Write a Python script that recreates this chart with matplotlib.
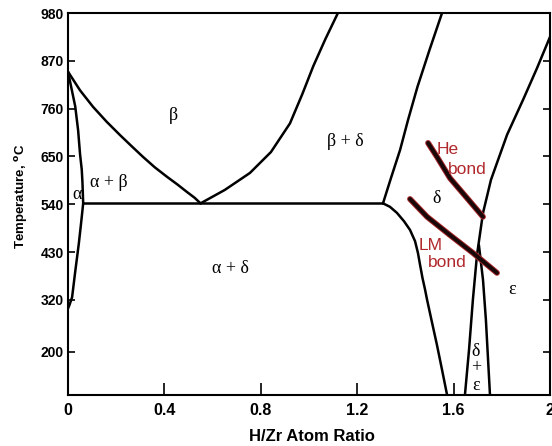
import numpy as np
import matplotlib
matplotlib.use("Agg")
import matplotlib.pyplot as plt

# phase boundaries: (H/Zr ratio, temperature C)
alpha_beta_x = [0.0, 0.015, 0.03, 0.042, 0.05, 0.057, 0.06, 0.063]
alpha_beta_t = [845, 805, 765, 710, 655, 620, 590, 542]

alpha_solvus_x = [0.063, 0.055, 0.045, 0.03, 0.017, 0.006, 0.0]
alpha_solvus_t = [542, 500, 450, 385, 326, 308, 300]

beta_x = [0.0, 0.05, 0.104, 0.16, 0.216, 0.265, 0.311, 0.36, 0.411, 0.455, 0.494, 0.525, 0.55]
beta_t = [845, 802, 764, 730, 699, 673, 649, 625, 603, 585, 568, 555, 542]

beta_delta_x = [0.55, 0.651, 0.755, 0.842, 0.921, 0.972, 1.018, 1.068, 1.12]
beta_delta_t = [542, 573, 612, 660, 726, 793, 858, 920, 980]

eutectoid_x = [0.063, 1.307]
eutectoid_t = [542, 542]

delta_upper_x = [1.307, 1.34, 1.378, 1.411, 1.45, 1.50, 1.552]
delta_upper_t = [542, 600, 665, 734, 810, 895, 980]

delta_lower_x = [1.307, 1.336, 1.365, 1.394, 1.419, 1.440, 1.452, 1.461, 1.471,
	1.481, 1.490, 1.510, 1.531, 1.552, 1.573]
delta_lower_t = [542, 534, 520, 501, 481, 455, 428, 400, 370,
	345, 320, 269, 216, 159, 101]

eps_upper_x = [1.722, 1.739, 1.755, 1.780, 1.822, 1.888, 1.946, 2.0]
eps_upper_t = [520, 559, 596, 635, 700, 780, 853, 925]

de_left_x = [1.722, 1.697, 1.680, 1.664, 1.647]
de_left_t = [520, 423, 320, 205, 101]

de_right_x = [1.705, 1.722, 1.734, 1.743, 1.751]
de_right_t = [446, 366, 274, 182, 101]

he_bond_x = [1.494, 1.531, 1.585, 1.656, 1.722]
he_bond_t = [681, 649, 600, 554, 511]

lm_bond_x = [1.419, 1.490, 1.585, 1.680, 1.780]
lm_bond_t = [552, 511, 469, 428, 382]

yticks = [200, 320, 430, 540, 650, 760, 870, 980]
xticks = [0, 0.4, 0.8, 1.2, 1.6, 2]
xticklabels = ["0", "0.4", "0.8", "1.2", "1.6", "2"]

################################################################################
fig = plt.figure(figsize=(5.52, 4.46), dpi=100)
ax = fig.add_axes([68/552, 1-395/446, 482/552, 382/446])

curves = [(alpha_beta_x, alpha_beta_t), (alpha_solvus_x, alpha_solvus_t),
	(beta_x, beta_t), (beta_delta_x, beta_delta_t), (eutectoid_x, eutectoid_t),
	(delta_upper_x, delta_upper_t), (delta_lower_x, delta_lower_t),
	(eps_upper_x, eps_upper_t), (de_left_x, de_left_t), (de_right_x, de_right_t)]
for cx, ct in curves:
	ax.plot(cx, ct, color='black', lw=1.8, solid_capstyle='round', solid_joinstyle='round')

for bx, bt in [(he_bond_x, he_bond_t), (lm_bond_x, lm_bond_t)]:
	ax.plot(bx, bt, color='#a8262a', lw=4.2, solid_capstyle='round', solid_joinstyle='round')
	ax.plot(bx, bt, color='#1a0808', lw=2.8, solid_capstyle='round', solid_joinstyle='round')

ax.set_xlim(0, 2)
ax.set_ylim(101, 980)
ax.set_xticks(xticks)
ax.set_xticklabels(xticklabels)
ax.set_yticks(yticks)

for sp in ax.spines.values():
	sp.set_linewidth(1.5)

for lab in ax.get_xticklabels():
	lab.set_fontfamily('Liberation Sans')
	lab.set_fontweight('bold')
	lab.set_fontsize(11.5)
for lab in ax.get_yticklabels():
	lab.set_fontfamily('Liberation Sans')
	lab.set_fontweight('bold')
	lab.set_fontsize(10)
ax.tick_params(axis='x', direction='in', length=9, width=1.2, pad=6)
ax.tick_params(axis='y', direction='in', length=5, width=1.2, pad=3, right=True)

ax.set_xlabel("H/Zr Atom Ratio", fontfamily='Liberation Sans', fontweight='bold', fontsize=12)
ax.xaxis.set_label_coords(0.506, -0.088)
ax.set_ylabel(r"Temperature, $^{\mathbf{o}}$C", fontfamily='Liberation Sans',
	fontweight='bold', fontsize=9.5)
ax.yaxis.set_label_coords(-0.078, 0.52)

greek = dict(family='Liberation Serif', size=13, ha='center', va='center')
ax.text(0.436, 745, "β", **greek)
ax.text(1.149, 685, "β + δ", **greek)
ax.text(0.17, 589, "α + β", **greek)
ax.text(0.037, 563, "α", **greek)
ax.text(0.672, 393, "α + δ", **greek)
ax.text(1.531, 554, "δ", **greek)
ax.text(1.842, 343, "ε", **greek)
ax.text(1.693, 202, "δ", **greek)
ax.text(1.693, 163, "+", **greek)
ax.text(1.693, 124, "ε", **greek)

red = dict(family='Liberation Sans', size=12.5, color='#b0282c', ha='center', va='center')
ax.text(1.577, 665, "He", **red)
ax.text(1.656, 621, "bond", **red)
ax.text(1.506, 446, "LM", **red)
ax.text(1.573, 405, "bond", **red)

plt.savefig("out.png", dpi=100)
plt.close()
